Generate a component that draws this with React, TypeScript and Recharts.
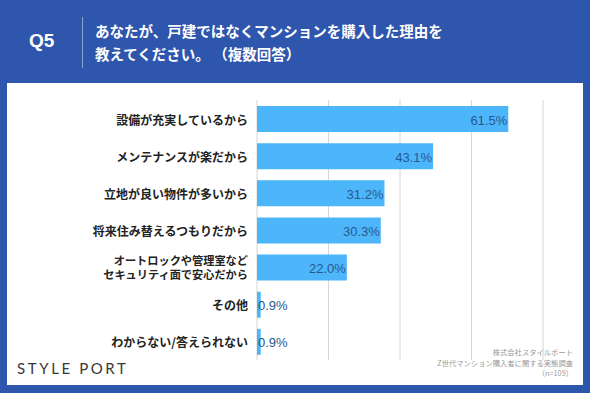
import { BarChart, Bar, XAxis, YAxis, CartesianGrid, LabelList } from 'recharts';

const reasons = [
  '設備が充実しているから',
  'メンテナンスが楽だから',
  '立地が良い物件が多いから',
  '将来住み替えるつもりだから',
  'オートロックや管理室など\nセキュリティ面で安心だから',
  'その他',
  'わからない/答えられない',
];
const shares = [61.5, 43.1, 31.2, 30.3, 22.0, 0.9, 0.9];
const gridTicks = [0, 17.5, 35, 52.5, 70];

const data = reasons.map((name, i) => ({ name, value: shares[i] }));

const BLUE = '#2f56ad';
const JP = '"Noto Sans CJK JP", "Noto Sans", sans-serif';

function ReasonTick({ x, y, payload }: any) {
  const lines = String(payload.value).split('\n');
  const lh = 13.5;
  const y0 = y - ((lines.length - 1) * lh) / 2;
  return (
    <text x={x - 1} y={y0} textAnchor="end" dominantBaseline="central"
      fill="#222" fontSize={lines.length > 1 ? 11.2 : 12} fontWeight={700} fontFamily={JP}>
      {lines.map((l, i) => (
        <tspan key={i} x={x - 1} y={y0 + i * lh}>{l}</tspan>
      ))}
    </text>
  );
}

function ValueLabel({ x, y, width, height, value }: any) {
  const inside = width > 45;
  return (
    <text x={inside ? x + width - 1 : x + 1} y={y + height / 2 + 1}
      textAnchor={inside ? 'end' : 'start'} dominantBaseline="central"
      fill="#27588e" fontSize={13} fontFamily='"Liberation Sans", Arial, sans-serif'>
      {Number(value).toFixed(1)}%
    </text>
  );
}

export default function App() {
  return (
    <div style={{ position: 'absolute', left: 0, top: 0, width: 590, height: 393, background: BLUE, overflow: 'hidden', fontFamily: JP }}>
      <div style={{ position: 'absolute', left: 29, top: 30, color: '#fff', fontSize: 19, fontWeight: 700, fontFamily: '"Liberation Sans", Arial, sans-serif' }}>Q5</div>
      <div style={{ position: 'absolute', left: 82, top: 17, width: 1, height: 51, background: 'rgba(255,255,255,0.45)' }} />
      <div style={{ position: 'absolute', left: 95, top: 19, color: '#fff', fontSize: 14.5, fontWeight: 700, lineHeight: '23px', whiteSpace: 'nowrap' }}>
        あなたが、戸建ではなくマンションを購入した理由を<br />教えてください。 （複数回答）
      </div>
      <div style={{ position: 'absolute', left: 7, top: 83, width: 576, height: 302, background: '#fff' }}>
        <BarChart width={576} height={302} data={data} layout="vertical"
          margin={{ top: 17, right: 40, bottom: 25, left: 10 }} barSize={26}>
          <CartesianGrid horizontal={false} stroke="#d6d6d6" />
          <XAxis type="number" domain={[0, 70]} ticks={gridTicks} hide />
          <YAxis type="category" dataKey="name" width={240} tick={<ReasonTick />}
            axisLine={false} tickLine={false} interval={0} />
          <Bar dataKey="value" fill="#4db6fb" isAnimationActive={false}>
            <LabelList dataKey="value" content={<ValueLabel />} />
          </Bar>
        </BarChart>
        <div style={{ position: 'absolute', left: 10, top: 276, fontFamily: 'Lato, "Open Sans", sans-serif', fontSize: 15, letterSpacing: 2.6, color: '#383838', fontWeight: 400 }}>
          STYLE PORT
        </div>
        <div style={{ position: 'absolute', right: 10, top: 264, textAlign: 'right', fontSize: 7.3, lineHeight: '10.5px', color: '#9a9a9a' }}>
          株式会社スタイルポート<br />Z世代マンション購入者に関する実態調査<br />（n=109）
        </div>
      </div>
    </div>
  );
}
